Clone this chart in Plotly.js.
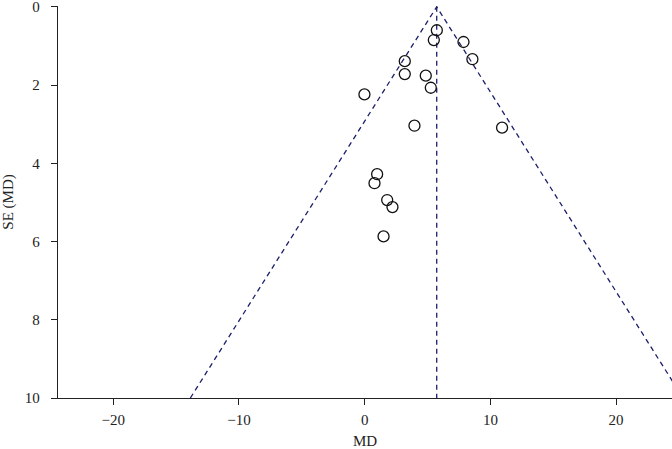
<!DOCTYPE html>
<html>
<head>
<meta charset="utf-8">
<script src="https://cdn.plot.ly/plotly-3.0.1.min.js"></script>
<style>
  html, body { margin: 0; padding: 0; background: #fff; }
  #chart { width: 672px; height: 449px; }
</style>
</head>
<body>
<div id="chart"></div>
<script>
// Study estimates (MD) and standard errors
var studyMD = [5.74, 5.50, 7.86, 8.57, 3.19, 3.19, 4.86, 5.26, -0.02, 3.96, 10.93, 0.99, 0.78, 1.79, 2.21, 1.50];
var studySE = [0.60, 0.85, 0.90, 1.34, 1.39, 1.72, 1.76, 2.07, 2.24, 3.04, 3.09, 4.28, 4.51, 4.94, 5.12, 5.87];

// Pooled estimate and 95% pseudo-confidence limits
var pooledX = [5.73, 5.73];
var pooledY = [0, 10];
var funnelX = [-13.87, 5.73, 25.33];
var funnelY = [10, 0, 10];

var xTicks = [-20, -10, 0, 10, 20];
var yTicks = [0, 2, 4, 6, 8, 10];

var serif = '"Liberation Serif", "Times New Roman", serif';
var navy = '#1b1f6b';

var data = [
    {
        x: funnelX,
        y: funnelY,
        type: 'scatter',
        mode: 'lines',
        line: {color: navy, width: 1.3, dash: '5px,4px'},
        hoverinfo: 'skip'
    },
    {
        x: pooledX,
        y: pooledY,
        type: 'scatter',
        mode: 'lines',
        line: {color: navy, width: 1.3, dash: '5px,4px'},
        hoverinfo: 'skip'
    },
    {
        x: studyMD,
        y: studySE,
        type: 'scatter',
        mode: 'markers',
        marker: {
            symbol: 'circle-open',
            size: 11,
            color: '#111',
            line: {color: '#111', width: 1.3}
        }
    }
];

var layout = {
    width: 672,
    height: 449,
    margin: {l: 58, r: 0, t: 6, b: 51},
    showlegend: false,
    paper_bgcolor: '#fff',
    plot_bgcolor: '#fff',
    font: {family: serif, size: 14, color: '#222'},
    xaxis: {
        range: [-24.4, 24.45],
        tickvals: xTicks,
        ticks: 'outside',
        ticklen: 6,
        tickcolor: '#222',
        showline: true,
        linecolor: '#222',
        linewidth: 1.3,
        showgrid: false,
        zeroline: false,
        ticklabelstandoff: 2,
        tickfont: {family: serif, size: 15, color: '#222'},
        title: {text: 'MD', font: {family: serif, size: 15, color: '#222'}, standoff: 18}
    },
    yaxis: {
        range: [10, -0.02],
        tickvals: yTicks,
        ticks: 'outside',
        ticklen: 6,
        tickcolor: '#222',
        showline: true,
        linecolor: '#222',
        linewidth: 1.3,
        showgrid: false,
        zeroline: false,
        ticklabelstandoff: 8,
        ticklabeloverflow: 'allow',
        tickfont: {family: serif, size: 15, color: '#222'},
        title: {text: 'SE (MD)', font: {family: serif, size: 15, color: '#222'}, standoff: 8}
    }
};

Plotly.newPlot('chart', data, layout, {displayModeBar: false, staticPlot: true});
</script>
</body>
</html>
